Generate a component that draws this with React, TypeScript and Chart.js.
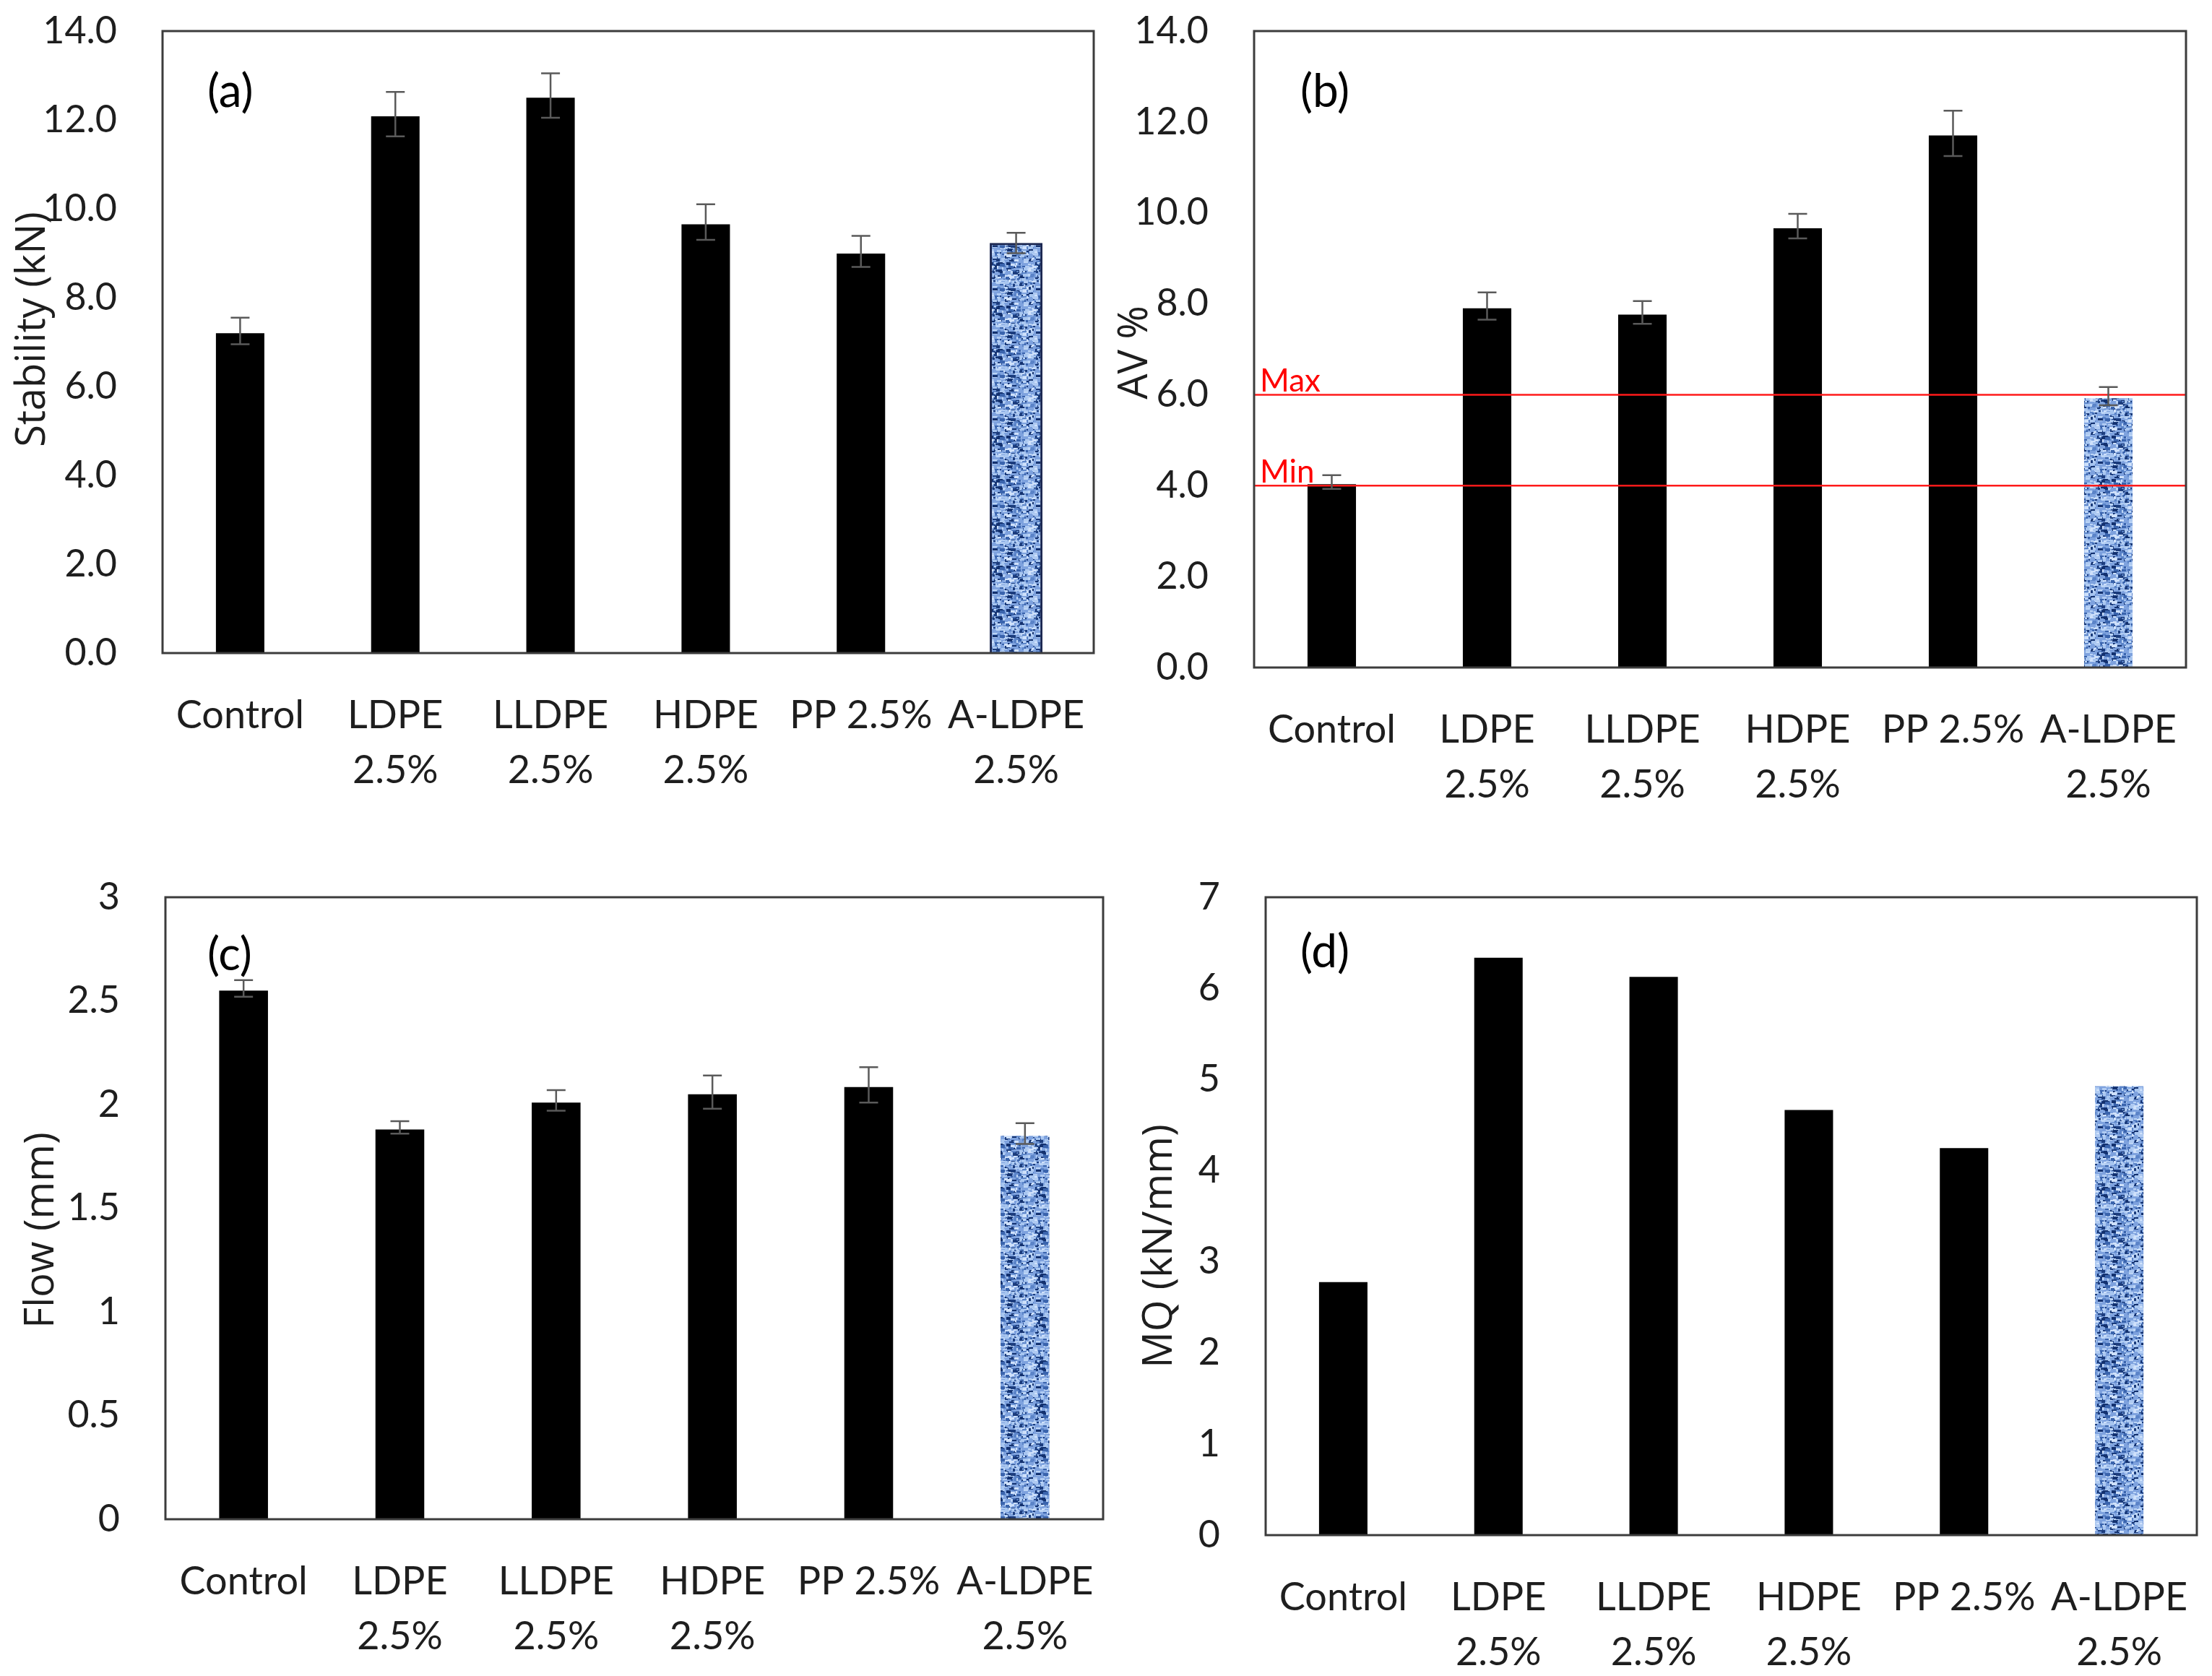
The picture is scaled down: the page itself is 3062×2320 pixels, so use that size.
import React, { useEffect, useRef } from 'react';
import { Chart, registerables } from 'chart.js';

Chart.register(...registerables);

// ---------- data ----------
const CATEGORIES: (string | string[])[] = [
  'Control',
  ['LDPE', '2.5%'],
  ['LLDPE', '2.5%'],
  ['HDPE', '2.5%'],
  'PP 2.5%',
  ['A-LDPE', '2.5%'],
];

const STABILITY = [7.25, 12.13, 12.55, 9.7, 9.04, 9.23];
const STABILITY_ERR = [0.3, 0.5, 0.5, 0.4, 0.35, 0.23];

const AIR_VOIDS = [4.08, 7.95, 7.81, 9.71, 11.75, 5.97];
const AIR_VOIDS_ERR = [0.15, 0.3, 0.25, 0.27, 0.5, 0.2];
const AV_LIMITS = [
  { label: 'Max', value: 6.0 },
  { label: 'Min', value: 4.0 },
];

const FLOW = [2.56, 1.89, 2.02, 2.06, 2.095, 1.86];
const FLOW_ERR = [0.04, 0.03, 0.05, 0.08, 0.085, 0.05];

const MQ = [2.8, 6.36, 6.15, 4.69, 4.27, 4.95];

const TEXTURED_INDEX = 5;

// ---------- layout / styling ----------
type Panel = {
  tag: string;
  title: string;
  values: number[];
  errors: number[] | null;
  limits: { label: string; value: number }[] | null;
  max: number;
  step: number;
  decimals: number;
  x: number; y: number; w: number; h: number;
  yAxisW: number; xAxisH: number; padTop: number; padRight: number;
  titleX: number; titleY: number;
  tagDx: number; tagDy: number;
  outline: boolean;
};

const PANELS: Panel[] = [
  {
    tag: '(a)', title: 'Stability (kN)', values: STABILITY, errors: STABILITY_ERR, limits: null,
    max: 14, step: 2, decimals: 1,
    x: 0, y: 0, w: 1530, h: 1160,
    yAxisW: 225, xAxisH: 1160 - 904, padTop: 43, padRight: 1530 - 1514,
    titleX: 46, titleY: 456, tagDx: 62, tagDy: 84, outline: true,
  },
  {
    tag: '(b)', title: 'AV %', values: AIR_VOIDS, errors: AIR_VOIDS_ERR, limits: AV_LIMITS,
    max: 14, step: 2, decimals: 1,
    x: 1530, y: 0, w: 1532, h: 1160,
    yAxisW: 1736 - 1530, xAxisH: 1160 - 924, padTop: 43, padRight: 3062 - 3026,
    titleX: 42, titleY: 488, tagDx: 64, tagDy: 84, outline: false,
  },
  {
    tag: '(c)', title: 'Flow (mm)', values: FLOW, errors: FLOW_ERR, limits: null,
    max: 3, step: 0.5, decimals: -1,
    x: 0, y: 1160, w: 1530, h: 1160,
    yAxisW: 229, xAxisH: 2320 - 2103, padTop: 1242 - 1160, padRight: 1530 - 1527,
    titleX: 58, titleY: 543, tagDx: 58, tagDy: 80, outline: false,
  },
  {
    tag: '(d)', title: 'MQ (kN/mm)', values: MQ, errors: null, limits: null,
    max: 7, step: 1, decimals: 0,
    x: 1530, y: 1160, w: 1532, h: 1160,
    yAxisW: 1752 - 1530, xAxisH: 2320 - 2125, padTop: 1242 - 1160, padRight: 3062 - 3041,
    titleX: 76, titleY: 565, tagDx: 48, tagDy: 76, outline: false,
  },
];

const TEXT_COLOR = '#1e1e1e';
const TICK_FONT = 'Lato, "Open Sans", sans-serif';
const TITLE_FONT = '"Open Sans", "Noto Sans", sans-serif';

function makeTexture(ctx: CanvasRenderingContext2D): CanvasPattern | string {
  const c = document.createElement('canvas');
  const S = 60;
  c.width = S;
  c.height = S;
  const g = c.getContext('2d');
  if (!g) return '#5d80c0';
  g.fillStyle = '#7ea2de';
  g.fillRect(0, 0, S, S);
  const hash = (n: number) => {
    const s = Math.sin(n * 12.9898 + 78.233) * 43758.5453;
    return s - Math.floor(s);
  };
  const cols = ['#1c3d7e', '#bcd5f6', '#3a64ad', '#a8c6f0', '#cfe1fb', '#13316f', '#5b84c8', '#b0cbf2'];
  for (let i = 0; i < 300; i++) {
    const x = Math.floor(hash(i + 1) * S);
    const y = Math.floor(hash(i + 501.3) * S);
    const w = 2 + Math.floor(hash(i + 77.7) * 6);
    const hh = 2 + Math.floor(hash(i + 33.1) * 3);
    g.fillStyle = cols[i % cols.length];
    for (const dx of [0, -S]) {
      for (const dy of [0, -S]) {
        g.fillRect(x + dx, y + dy, w, hh);
      }
    }
  }
  return ctx.createPattern(c, 'repeat') || '#5d80c0';
}

function fmt(v: number, decimals: number) {
  if (decimals < 0) return String(Number(v.toFixed(2)));
  return v.toFixed(decimals);
}

function build(canvas: HTMLCanvasElement, p: Panel) {
  const ctx = canvas.getContext('2d') as CanvasRenderingContext2D;
  const tex = makeTexture(ctx);
  const bg = p.values.map((_, i) => (i === TEXTURED_INDEX ? tex : '#000000'));
  const bc = p.values.map((_, i) => (i === TEXTURED_INDEX && p.outline ? '#1a2650' : 'rgba(0,0,0,0)'));

  const boxPlugin = {
    id: 'box' + p.tag,
    afterDraw(chart: any) {
      const { left, top, right, bottom } = chart.chartArea;
      const c = chart.ctx;
      c.save();
      c.strokeStyle = '#3c3c3c';
      c.lineWidth = 3;
      c.strokeRect(left, top, right - left, bottom - top);
      c.fillStyle = TEXT_COLOR;
      c.font = `56px ${TITLE_FONT}`;
      c.textAlign = 'center';
      c.textBaseline = 'middle';
      c.translate(p.titleX, p.titleY);
      c.rotate(-Math.PI / 2);
      c.fillText(p.title, 0, 0);
      c.restore();
    },
  };

  const overlayPlugin = {
    id: 'overlay' + p.tag,
    afterDatasetsDraw(chart: any) {
      const c = chart.ctx;
      const ys = chart.scales.y;
      const { left, right, top } = chart.chartArea;
      c.save();
      if (p.limits) {
        for (const lim of p.limits) {
          const y = ys.getPixelForValue(lim.value);
          c.strokeStyle = '#ff1a1a';
          c.lineWidth = 2.5;
          c.beginPath();
          c.moveTo(left, y);
          c.lineTo(right, y);
          c.stroke();
          c.fillStyle = '#ff0000';
          c.font = `44px ${TICK_FONT}`;
          c.textAlign = 'left';
          c.textBaseline = 'alphabetic';
          c.fillText(lim.label, left + 8, y - 4);
        }
      }
      if (p.errors) {
        const meta = chart.getDatasetMeta(0);
        c.strokeStyle = '#5a5a5a';
        c.lineWidth = 2.5;
        meta.data.forEach((bar: any, i: number) => {
          const v = p.values[i];
          const e = p.errors ? p.errors[i] : 0;
          const yTop = ys.getPixelForValue(v + e);
          const yBot = ys.getPixelForValue(v - e);
          const x = bar.x;
          c.beginPath();
          c.moveTo(x, yTop);
          c.lineTo(x, yBot);
          c.moveTo(x - 13, yTop);
          c.lineTo(x + 13, yTop);
          c.moveTo(x - 13, yBot);
          c.lineTo(x + 13, yBot);
          c.stroke();
        });
      }
      c.fillStyle = '#000000';
      c.font = `64px ${TICK_FONT}`;
      c.textAlign = 'left';
      c.textBaseline = 'middle';
      c.fillText(p.tag, left + p.tagDx, top + p.tagDy);
      c.restore();
    },
  };

  return new Chart(canvas, {
    type: 'bar',
    data: {
      labels: CATEGORIES as any,
      datasets: [
        {
          data: p.values,
          backgroundColor: bg as any,
          borderColor: bc,
          borderWidth: 3,
          categoryPercentage: 1,
          barPercentage: 0.34,
        },
      ],
    },
    options: {
      responsive: false,
      animation: false,
      devicePixelRatio: 1,
      layout: { padding: { top: p.padTop, right: p.padRight, left: 0, bottom: 0 } },
      plugins: { legend: { display: false }, tooltip: { enabled: false } },
      scales: {
        x: {
          grid: { display: false },
          border: { display: false },
          ticks: {
            color: TEXT_COLOR,
            font: { family: TICK_FONT, size: 54, lineHeight: 1.42 },
            padding: 40,
            maxRotation: 0,
            autoSkip: false,
          },
          afterFit: (s: any) => {
            s.height = p.xAxisH;
            s.paddingLeft = 0;
            s.paddingRight = 0;
          },
        },
        y: {
          min: 0,
          max: p.max,
          grid: { display: false },
          border: { display: false },
          ticks: {
            stepSize: p.step,
            color: TEXT_COLOR,
            font: { family: TICK_FONT, size: 52 },
            padding: 55,
            callback: (v: any) => fmt(Number(v), p.decimals),
          },
          title: { display: false },
          afterFit: (s: any) => {
            s.width = p.yAxisW;
            s.paddingTop = 20;
            s.paddingBottom = 20;
          },
        },
      },
    } as any,
    plugins: [boxPlugin, overlayPlugin],
  });
}

export default function App() {
  const r0 = useRef<HTMLCanvasElement>(null);
  const r1 = useRef<HTMLCanvasElement>(null);
  const r2 = useRef<HTMLCanvasElement>(null);
  const r3 = useRef<HTMLCanvasElement>(null);
  const refs = [r0, r1, r2, r3];

  useEffect(() => {
    document.body.style.margin = '0';
    const charts = PANELS.map((p, i) => build(refs[i].current as HTMLCanvasElement, p));
    return () => charts.forEach((c) => c.destroy());
  }, []);

  return (
    <div style={{ position: 'relative', width: 3062, height: 2320, background: '#ffffff', overflow: 'hidden' }}>
      {PANELS.map((p, i) => (
        <canvas
          key={p.tag}
          ref={refs[i]}
          width={p.w}
          height={p.h}
          style={{ position: 'absolute', left: p.x, top: p.y, width: p.w, height: p.h }}
        />
      ))}
    </div>
  );
}
